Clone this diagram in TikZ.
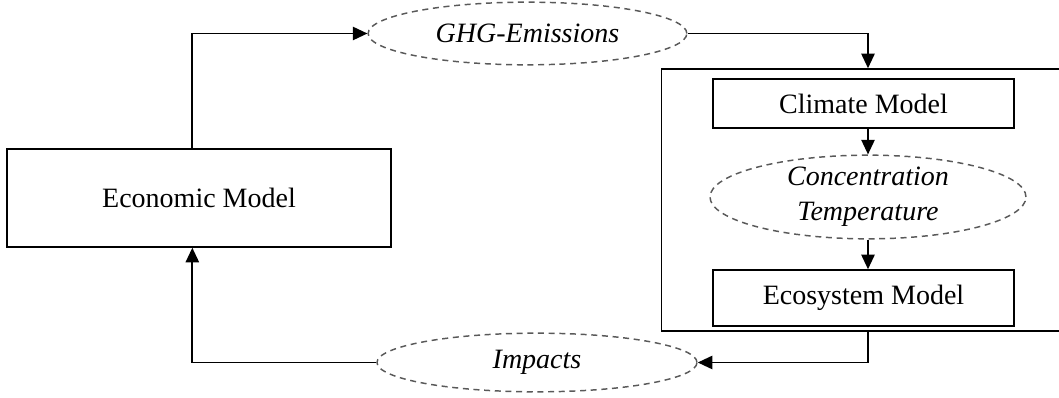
\documentclass[tikz,border=0pt]{standalone}
\usepackage{fontspec}
\setmainfont{Liberation Serif}
\usetikzlibrary{shapes.geometric,arrows.meta}
\tikzset{
  modelnode/.style = {shape=rectangle, draw, line width=1.1pt,
                      align=center, font=\fontsize{21}{26}\selectfont},
  econ/.style      = {modelnode, minimum width=288pt, minimum height=73.5pt},
  submodel/.style  = {modelnode, minimum width=226pt},
  outerbox/.style  = {shape=rectangle, draw, line width=1.1pt,
                      minimum width=302pt, minimum height=196.5pt},
  varnode/.style   = {shape=ellipse, draw=black!65, line width=1.1pt,
                      dash pattern=on 4.5pt off 3.5pt, inner sep=0pt, align=center,
                      font=\fontsize{21}{26}\selectfont\itshape}
}

\begin{document}
\begin{tikzpicture}
  [
    x = 0.75pt, y = -0.75pt,
    flow/.style = {draw, line width=1.3pt, -{Triangle[length=11pt,width=10pt]}}
  ]
  \useasboundingbox (0,0) rectangle (1059,398);

  \node [econ] (econ) at (199,198) {Economic Model};
  \node [varnode, minimum width=239pt, minimum height=47pt] (ghg) at (527.5,33.5) {GHG-Emissions};
  \node [outerbox] (climbox) at (863,200) {};
  \node [submodel, minimum height=37pt] (climate) at (863.5,103.5) {Climate Model};
  \node [varnode, minimum width=237pt, minimum height=51pt] (conc) at (868,197)
        {Concentration\\Temperature};
  \node [submodel, minimum height=42pt] (eco) at (863.5,298) {Ecosystem Model};
  \node [varnode, minimum width=240pt, minimum height=44pt] (impacts) at (537,362.5) {Impacts};

  % loop
  \draw [flow] ([xshift=-5pt]econ.north) |- (ghg.west);
  \draw [flow] (ghg.east) -| (conc.north |- climbox.north);
  \draw [flow] (conc.north |- climate.south) -- (conc.north);
  \draw [flow] (conc.south) -- (conc.south |- eco.north);
  \draw [flow] (conc.south |- climbox.south) |- (impacts.east);
  \draw [flow] (impacts.west) -| ([xshift=-5pt]econ.south);
\end{tikzpicture}
\end{document}
